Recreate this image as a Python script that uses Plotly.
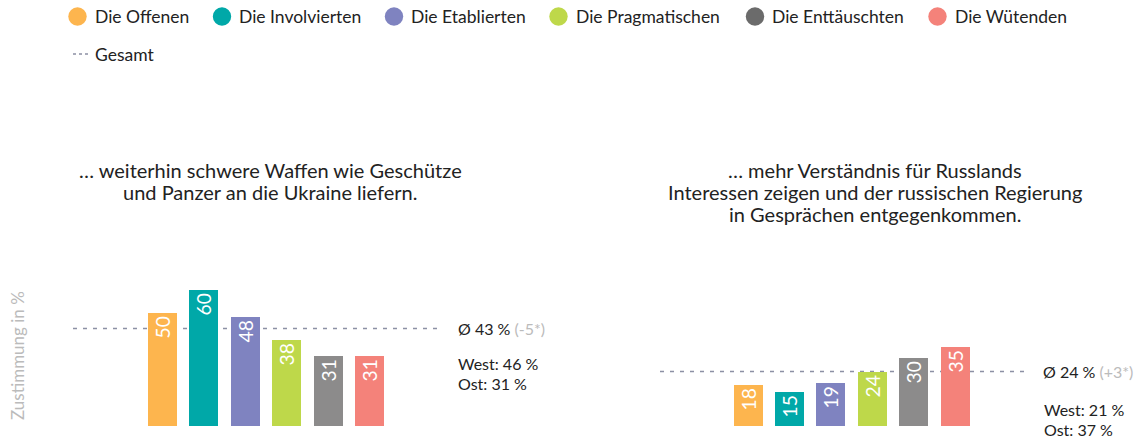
import plotly.graph_objects as go

W, H = 1137, 438

groups = ["Die Offenen", "Die Involvierten", "Die Etablierten",
          "Die Pragmatischen", "Die Enttäuschten", "Die Wütenden"]
bar_colors = ["#FDB54E", "#00A8A8", "#7F83C0", "#BED84A", "#8C8B8B", "#F4827A"]
legend_colors = ["#FDB54E", "#00A8A8", "#7F83C0", "#BED84A", "#6B6B6B", "#F4827A"]

waffen = [50, 60, 48, 38, 31, 31]
russland = [18, 15, 19, 24, 30, 35]

avg_waffen, diff_waffen = 43, "-5*"
avg_russland, diff_russland = 24, "+3*"
west_ost_waffen = ("46 %", "31 %")
west_ost_russland = ("21 %", "37 %")

title_waffen = ["… weiterhin schwere Waffen wie Geschütze",
                "und Panzer an die Ukraine liefern."]
title_russland = ["… mehr Verständnis für Russlands",
                  "Interessen zeigen und der russischen Regierung",
                  "in Gesprächen entgegenkommen."]

FONT = "Lato"
TXT = "#222222"
DASH = "#8C90A4"

fig = go.Figure()
x_idx = list(range(len(groups)))
for vals, xa, ya in [(waffen, "x", "y"), (russland, "x2", "y2")]:
    fig.add_trace(go.Bar(
        x=x_idx, y=vals, xaxis=xa, yaxis=ya,
        marker=dict(color=bar_colors, line=dict(width=0)),
        width=0.7, text=[str(v) for v in vals],
        textposition="inside", insidetextanchor="end", textangle=-90,
        textfont=dict(color="white", size=21, family=FONT),
        showlegend=False, hoverinfo="skip", cliponaxis=False,
    ))


def px(x):
    return x / W


def py(y):
    return 1 - y / H


ydom = [py(426), py(426 - 227)]
fig.update_layout(
    width=W, height=H, margin=dict(l=0, r=0, t=0, b=0),
    paper_bgcolor="white", plot_bgcolor="white",
    font=dict(family=FONT, color=TXT),
    bargap=0,
    xaxis=dict(domain=[px(73), px(440)], range=[-2.16, 6.70], visible=False),
    xaxis2=dict(domain=[px(660), px(1025)], range=[-2.13, 6.69], visible=False),
    yaxis=dict(domain=ydom, range=[0, 100], visible=False),
    yaxis2=dict(domain=ydom, range=[0, 100], visible=False, anchor="x2"),
)

# average lines
for avg, xr, yr in [(avg_waffen, "x domain", "y"), (avg_russland, "x2 domain", "y2")]:
    fig.add_shape(type="line", xref=xr, yref=yr, x0=0, x1=1, y0=avg, y1=avg,
                  line=dict(color=DASH, width=1.5, dash="4px,6px"), layer="below")

ann = []
# average labels
for avg, diff, xr, yr in [(avg_waffen, diff_waffen, "x domain", "y"),
                          (avg_russland, diff_russland, "x2 domain", "y2")]:
    ann.append(dict(xref=xr, yref=yr, x=1, y=avg, xshift=16, xanchor="left", yanchor="middle",
                    text=f"Ø {avg} % <span style='color:#BBBBBB'>({diff})</span>",
                    showarrow=False, font=dict(size=16, color=TXT)))
# West / Ost
for (w, o), x0, yc in [(west_ost_waffen, 456, 373), (west_ost_russland, 1042, 419.5)]:
    for k, (lab, val) in enumerate([("West", w), ("Ost", o)]):
        ann.append(dict(xref="paper", yref="paper", x=px(x0), y=py(yc - 10 + 20 * k),
                        xanchor="left", yanchor="middle", text=f"{lab}: {val}",
                        showarrow=False, font=dict(size=16, color=TXT)))
# titles
for lines, cx, y0 in [(title_waffen, 270, 170), (title_russland, 875, 170)]:
    for k, line in enumerate(lines):
        ann.append(dict(xref="paper", yref="paper", x=px(cx), y=py(y0 + 22 * k),
                        xanchor="center", yanchor="middle", text=line, showarrow=False,
                        font=dict(size=20, color=TXT)))
# y axis title
ann.append(dict(xref="paper", yref="paper", x=px(17), y=py(356), xanchor="center", yanchor="middle",
                text="Zustimmung in %", textangle=-90, showarrow=False,
                font=dict(size=17, color="#BBBBBB")))

# legend (manual)
leg_cx = [77.5, 222, 394, 558.5, 755, 937.5]
r = 9.2
LY = 16.5
for cx, name, col in zip(leg_cx, groups, legend_colors):
    fig.add_shape(type="circle", xref="paper", yref="paper",
                  x0=px(cx - r), x1=px(cx + r), y0=py(LY + r), y1=py(LY - r),
                  fillcolor=col, line=dict(width=0))
    ann.append(dict(xref="paper", yref="paper", x=px(cx + 15), y=py(LY), xanchor="left", yanchor="middle",
                    text=name, showarrow=False, font=dict(size=17.5, color=TXT)))
fig.add_shape(type="line", xref="paper", yref="paper", x0=px(73), x1=px(90), y0=py(54), y1=py(54),
              line=dict(color=DASH, width=1.5, dash="3px,3px"))
ann.append(dict(xref="paper", yref="paper", x=px(93), y=py(54), xanchor="left", yanchor="middle",
                text="Gesamt", showarrow=False, font=dict(size=17.5, color=TXT)))

fig.update_layout(annotations=ann)
fig.write_html("out.html", config={"displayModeBar": False},
               post_script="document.body.style.margin='0';document.body.style.overflow='hidden';")
